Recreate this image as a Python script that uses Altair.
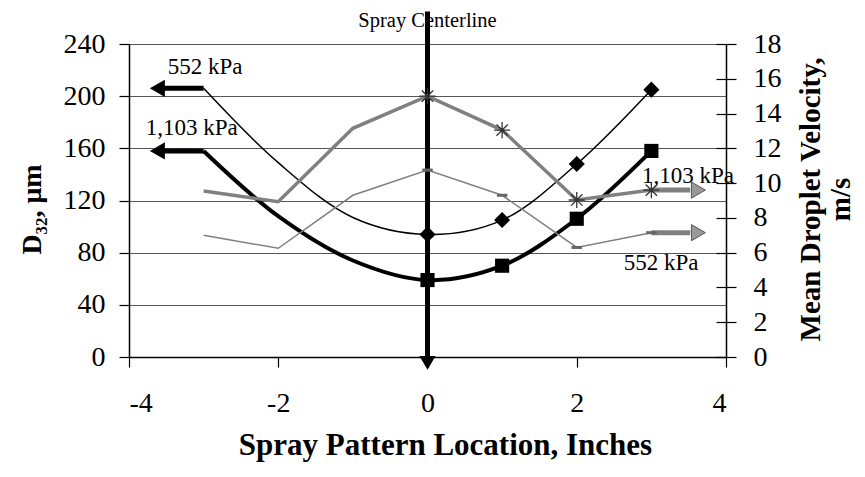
import altair as alt
import pandas as pd

# ---- data ----
x_pos = [-3, -2, -1, 0, 1, 2, 3]
d32_1103 = [158, 108, 74, 59, 70, 106, 158]
d32_552 = [206, 149, 107, 94, 105, 148, 205]
vel_1103 = [9.55, 8.93, 13.15, 15.0, 13.05, 9.03, 9.6]
vel_552 = [7.0, 6.25, 9.3, 10.75, 9.3, 6.3, 7.15]
marker_x = [0, 1, 2, 3]

x_ticks = [-4, -2, 0, 2, 4]
d32_ticks = [0, 40, 80, 120, 160, 200, 240]
vel_ticks = [0, 2, 4, 6, 8, 10, 12, 14, 16, 18]

# arrows: start x, end x, head x, value
left_arrow_labels = ["552 kPa", "1,103 kPa"]
left_arrow_y = [206, 158]
left_arrow_x0 = [-3, -3]
left_arrow_x1 = [-3.55, -3.55]
left_arrow_head = [-3.62, -3.62]
left_label_x = [-2.98, -3.16]
left_label_y = [222, 175.6]

right_arrow_labels = ["1,103 kPa", "552 kPa"]
right_arrow_y = [9.6, 7.15]
right_arrow_x0 = [3, 3]
right_arrow_x1 = [3.52, 3.52]
right_arrow_head = [3.63, 3.63]
right_label_x = [3.49, 3.13]
right_label_y = [10.4, 5.43]

center_x = [0]
center_top = [265]
center_bottom = [-3]
center_head = [-4.5]
center_label = ["Spray Centerline"]
center_label_y = [258]

FONT = "Liberation Serif"
GRAY = "#808080"

df = pd.DataFrame({"x": x_pos, "d1103": d32_1103, "d552": d32_552,
                   "v1103": vel_1103, "v552": vel_552})
dfm = df[df["x"].isin(marker_x)]
dla = pd.DataFrame({"label": left_arrow_labels, "y": left_arrow_y, "x0": left_arrow_x0,
                    "x1": left_arrow_x1, "hx": left_arrow_head, "lx": left_label_x,
                    "ly": left_label_y})
dra = pd.DataFrame({"label": right_arrow_labels, "y": right_arrow_y, "x0": right_arrow_x0,
                    "x1": right_arrow_x1, "hx": right_arrow_head, "lx": right_label_x,
                    "ly": right_label_y})
dc = pd.DataFrame({"x": center_x, "top": center_top, "bot": center_bottom,
                   "head": center_head, "label": center_label, "ly": center_label_y})

xs = alt.Scale(domain=[-4, 4])
ys = alt.Scale(domain=[0, 240])
vs = alt.Scale(domain=[0, 18])

LBL = dict(labelFont=FONT, labelFontSize=28, labelColor="black",
           titleFont=FONT, titleFontWeight="bold", titleColor="black")

x_axis = alt.Axis(values=x_ticks, grid=False, title="Spray Pattern Location, Inches",
                  tickSize=10, labelPadding=22, titleX=316, titleY=88,
                  titleFontSize=31,
                  labelExpr="datum.value < 0 ? '-' + abs(datum.value) : '' + datum.value",
                  titleBaseline="middle", titleAnchor="middle", **LBL)
y_axis = alt.Axis(values=d32_ticks, grid=True, title="D₃₂, μm", tickSize=10,
                  labelPadding=14, titleAngle=270, titleX=-97, titleY=165,
                  titleFontSize=28,
                  titleBaseline="middle", titleAlign="center", **LBL)
v_axis = alt.Axis(values=vel_ticks, grid=False, orient="right",
                  title=["Mean Droplet Velocity,", "m/s"], tickSize=10, labelPadding=17,
                  titleAngle=270, titleX=93, titleY=155, titleBaseline="alphabetic",
                  titleFontSize=29,
                  titleAlign="center", titleLineHeight=30, **LBL)
inner_axis = alt.Axis(values=vel_ticks, grid=False, orient="right", offset=-10,
                      domain=False, labels=False, title=None, tickSize=10)


def X(f):
    return alt.X(f, scale=xs, axis=x_axis)


def Y(f):
    return alt.Y(f, scale=ys, axis=y_axis)


def V(f):
    return alt.Y(f, scale=vs, axis=v_axis)


base = alt.Chart(df)

line1103 = base.mark_line(color="black", strokeWidth=4, interpolate="catmull-rom").encode(
    x=X("x:Q"), y=Y("d1103:Q"))
line552 = base.mark_line(color="black", strokeWidth=1.5, interpolate="catmull-rom").encode(
    x=X("x:Q"), y=Y("d552:Q"))

la_shaft = alt.Chart(dla).mark_rule(color="black", strokeWidth=5).encode(
    x=X("x0:Q"), x2="x1:Q", y=Y("y:Q"))
la_head = alt.Chart(dla).mark_point(shape="triangle-left", filled=True, color="black",
                                    size=300, opacity=1).encode(x=X("hx:Q"), y=Y("y:Q"))
la_text = alt.Chart(dla).mark_text(font=FONT, fontSize=23, color="black",
                                   baseline="middle").encode(
    x=X("lx:Q"), y=Y("ly:Q"), text="label:N")

c_rule = alt.Chart(dc).mark_rule(color="black", strokeWidth=5).encode(
    x=X("x:Q"), y=Y("top:Q"), y2="bot:Q")
c_head = alt.Chart(dc).mark_point(shape="triangle-down", filled=True, color="black",
                                  size=260, opacity=1).encode(x=X("x:Q"), y=Y("head:Q"))
c_text = alt.Chart(dc).mark_text(font=FONT, fontSize=20.5, color="black",
                                 baseline="middle").encode(
    x=X("x:Q"), y=Y("ly:Q"), text="label:N")

sq = alt.Chart(dfm).mark_point(shape="square", filled=True, color="black", size=200,
                               opacity=1).encode(x=X("x:Q"), y=Y("d1103:Q"))
dm = alt.Chart(dfm).mark_point(shape="diamond", filled=True, color="black", size=260,
                               opacity=1).encode(x=X("x:Q"), y=Y("d552:Q"))

left = alt.layer(line1103, line552, la_shaft, la_head, la_text, c_rule, c_head, c_text, sq, dm)

vline1103 = base.mark_line(color=GRAY, strokeWidth=3.5).encode(
    x=X("x:Q"), y=V("v1103:Q"))
vline552 = base.mark_line(color=GRAY, strokeWidth=1.5).encode(
    x=X("x:Q"), y=V("v552:Q"))
ra_shaft = alt.Chart(dra).mark_rule(color=GRAY, strokeWidth=5).encode(
    x=X("x0:Q"), x2="x1:Q", y=V("y:Q"))
ra_head = alt.Chart(dra).mark_point(shape="triangle-right", filled=True, fill="#999999",
                                    stroke="#555555", strokeWidth=1, size=260,
                                    opacity=1).encode(x=X("hx:Q"), y=V("y:Q"))
ra_text = alt.Chart(dra).mark_text(font=FONT, fontSize=23, color="black",
                                   baseline="middle").encode(
    x=X("lx:Q"), y=V("ly:Q"), text="label:N")
stars = alt.Chart(dfm).mark_point(
    shape="M-1,0L1,0M0,-1L0,1M-0.7,-0.7L0.7,0.7M-0.7,0.7L0.7,-0.7",
    filled=False, color="#333333", strokeWidth=1.3, size=260, opacity=1).encode(
    x=X("x:Q"), y=V("v1103:Q"))
dashes = alt.Chart(dfm).mark_point(shape="M-1,0L1,0", filled=False, color="#666666",
                                   strokeWidth=3, size=110, opacity=1).encode(
    x=X("x:Q"), y=V("v552:Q"))

right = alt.layer(vline1103, vline552, ra_shaft, ra_head, ra_text, stars, dashes)

inner = base.mark_point(opacity=0).encode(
    x=X("x:Q"), y=alt.Y("v1103:Q", scale=vs, axis=inner_axis))

chart = alt.layer(left, right, inner).resolve_scale(y="independent").properties(
    width=597, height=313,
    padding={"left": 121, "top": 36, "right": 131, "bottom": 112},
    autosize=alt.AutoSizeParams(type="none"),
).configure_view(stroke=None).configure_axis(
    domainColor="black", domainWidth=1.5, tickColor="black", tickWidth=1.2,
    gridColor="#555555", gridWidth=1,
)

chart.save("out.html", embed_options={"renderer": "svg", "actions": False})
